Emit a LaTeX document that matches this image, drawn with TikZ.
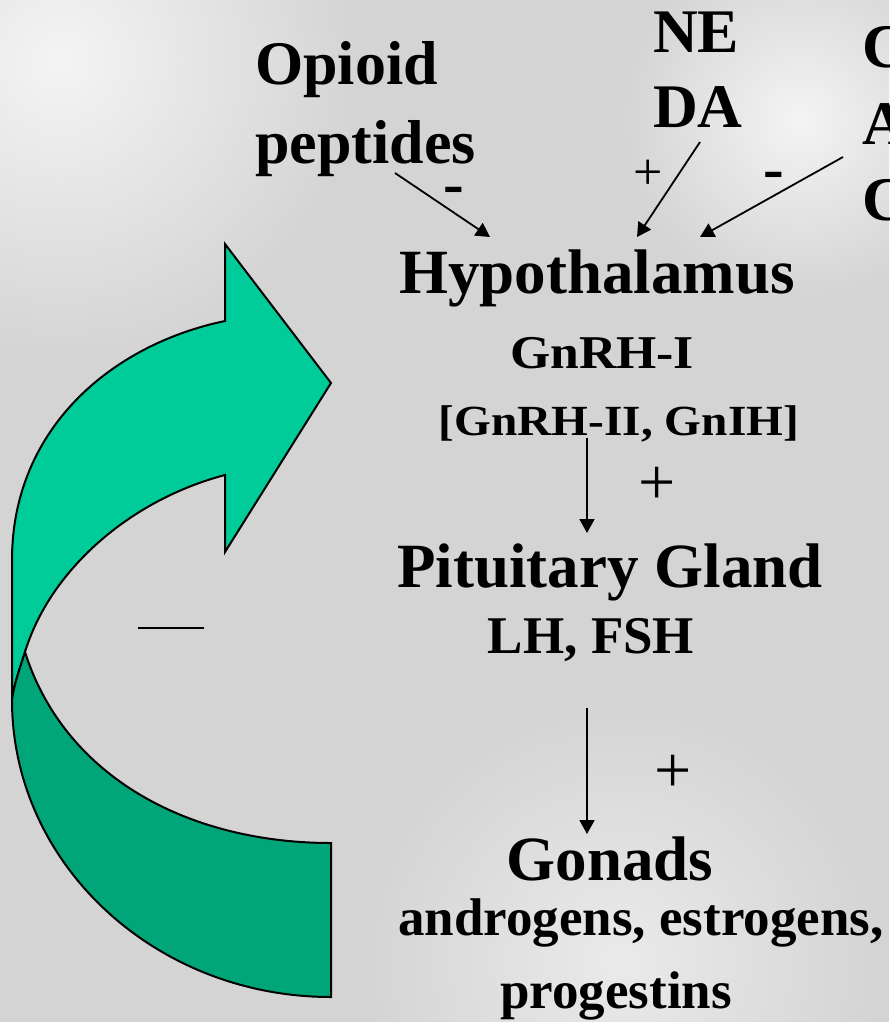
\documentclass[tikz,border=0pt]{standalone}
\usepackage{fontspec}
\setmainfont{Liberation Serif}
\usetikzlibrary{arrows.meta}

\definecolor{photogray}{RGB}{212,212,212}
\definecolor{paleback}{RGB}{244,244,244}
\definecolor{frontgreen}{RGB}{0,204,153}
\definecolor{backgreen}{RGB}{0,166,122}

\begin{document}
\begin{tikzpicture}[x=1pt, y=-1pt,
    signal/.style = {font=\bfseries\fontsize{62}{70}\selectfont, anchor=base west, inner sep=0pt},
    organ/.style = {font=\bfseries\fontsize{63}{70}\selectfont, anchor=base, inner sep=0pt},
    hormone/.style = {font=\bfseries\fontsize{53}{60}\selectfont, anchor=base, inner sep=0pt},
    effect/.style = {-{Triangle[length=14pt,width=15pt]}, line width=1.8pt},
    sign/.style = {font=\fontsize{66}{70}\selectfont, anchor=base, inner sep=0pt},
    inhibit/.style = {font=\bfseries\fontsize{62}{70}\selectfont, anchor=base, inner sep=0pt, text height=0.3em, text depth=0pt},
    band/.style = {draw=black, line width=2pt, line join=miter}
  ]
  \useasboundingbox (0,0) rectangle (889,1022);
  \clip (0,0) rectangle (889,1022);

  % blurred photo behind the slide
  \fill[photogray] (0,0) rectangle (889,1022);
  \shade[inner color=paleback, outer color=photogray] (60,60) circle (300pt);
  \shade[inner color=paleback, outer color=photogray] (800,120) circle (180pt);
  \shade[inner color=paleback!70!photogray, outer color=photogray] (620,960) circle (260pt);

  % feedback arrow
  \filldraw[band, fill=frontgreen] (12,700) -- (12,560)
    .. controls (12,430) and (110,345) .. (225,321)
    -- (225,244) -- (331,383) -- (225,552) -- (225,475)
    .. controls (130,500) and (50,570) .. (25,652)
    .. controls (20,668) and (14,684) .. (12,700) -- cycle;
  \filldraw[band, fill=backgreen] (12,700)
    .. controls (12,864) and (155,997) .. (331,997)
    -- (331,843)
    .. controls (190,843) and (65,778) .. (25,652)
    .. controls (20,668) and (14,684) .. (12,700) -- cycle;
  \coordinate (dashL) at (138,628);
  \coordinate (dashR) at (204,628);
  \draw[line width=1.5pt] (dashL) -- (dashR);

  % inputs
  \node[signal] (opioid) at (255,85) {Opioid};
  \node[signal] (peptides) at (255,163) {peptides};
  \node[signal] (ne) at (653,53) {NE};
  \node[signal] (da) at (653,128) {DA};
  \node[signal] (cfirst) at (862,68) {C};
  \node[signal] (amid) at (862,145) {A};
  \node[signal] (clast) at (862,220) {C};

  % axis
  \node[organ] (hypo) at (597,293) {Hypothalamus};
  \node[hormone] (gnrh) at (602,368) {\scalebox{1.1}[1]{\fontsize{47}{50}\selectfont GnRH-I}};
  \node[hormone] (gnrhx) at (619,435) {\scalebox{1.1}[1]{\fontsize{43}{50}\selectfont [GnRH-II, GnIH]}};
  \node[organ] (pit) at (610,587) {Pituitary Gland};
  \node[hormone] (lhfsh) at (591,653) {LH, FSH};
  \node[organ] (gonads) at (610,880) {Gonads};
  \node[hormone] (steroids) at (641,935) {androgens, estrogens,};
  \node[hormone] (progest) at (616,1008) {progestins};

  % connectors
  \coordinate (opioidOut) at (395,173);
  \coordinate (daOut) at (700,142);
  \coordinate (cOut) at (843,157);
  \coordinate (hypoInA) at (490,237);
  \coordinate (hypoInB) at (637,237);
  \coordinate (hypoInC) at (700,237);
  \coordinate (gnrhOut) at (587,438);
  \coordinate (pitIn) at (587,533);
  \coordinate (lhOut) at (587,708);
  \coordinate (gonIn) at (587,834);
  \draw[effect] (opioidOut) -- (hypoInA);
  \draw[effect] (daOut) -- (hypoInB);
  \draw[effect] (cOut) -- (hypoInC);
  \draw[effect] (gnrhOut) -- (pitIn);
  \draw[effect] (lhOut) -- (gonIn);

  % signs
  \node[inhibit] (minusOp) at (454,204) {-};
  \node[inhibit] (minusC) at (774,189) {-};
  \node[sign, font=\fontsize{52}{56}\selectfont] (plusDA) at (648,189) {+};
  \node[sign] (plusPit) at (657,504) {+};
  \node[sign] (plusGon) at (673,792) {+};
\end{tikzpicture}
\end{document}
